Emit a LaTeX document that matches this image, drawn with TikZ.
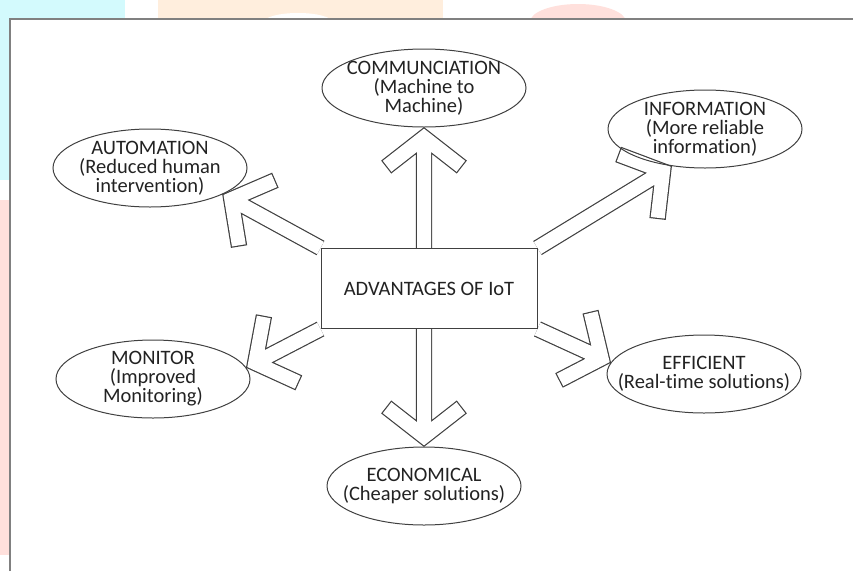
\documentclass[tikz,border=0pt]{standalone}
\usepackage{fontspec}
\setmainfont[Ligatures=NoCommon]{Carlito}
\usetikzlibrary{backgrounds,calc,shapes.geometric}
\definecolor{frame-grey}{HTML}{808080}
\definecolor{outline-grey}{HTML}{404040}
\definecolor{ink}{HTML}{222222}
\definecolor{wm-cyan}{HTML}{d3fafd}
\definecolor{wm-peach}{HTML}{ffeedd}
\definecolor{wm-pink}{HTML}{ffe0dc}

\begin{document}
\begin{tikzpicture}[
    x=1pt, y=-1pt,
    every node/.style={font=\fontsize{20.5}{19}\selectfont, text=ink},
    idea/.style={
        ellipse, draw=outline-grey, line width=1pt,
        minimum width=194pt, minimum height=78pt, inner sep=0pt,
    },
    idea text/.style={align=center},
    hub/.style={
        draw=outline-grey, line width=1pt, fill=white,
        minimum width=216pt, minimum height=80pt,
    },
    fat/.style={draw=outline-grey, line width=16.4pt, line join=miter},
    fat inner/.style={draw=white, line width=14pt, line join=miter},
]
\useasboundingbox (0,0) rectangle (853,571);

% faded marks round the frame
\begin{scope}
\clip (0,0) rectangle (853,19);
\fill[wm-cyan] (0,0) rectangle (125,19);
\fill[wm-peach] (158,0) rectangle (443,19);
\fill[white] (298,22) ellipse [x radius=34pt, y radius=9pt];
\fill[wm-pink] (578,22) ellipse [x radius=48pt, y radius=18pt];
\end{scope}
\fill[wm-cyan] (0,19) rectangle (10,180);
\fill[wm-pink] (0,200) rectangle (10,555);
\draw[frame-grey, line width=2pt] (10,571) -- (10,19) -- (853,19);

\node[hub] (box) at (429,288.5) {ADVANTAGES OF IoT};

\node[idea, minimum width=204pt,
    label={[idea text]center:{COMMUNCIATION\\(Machine to\\Machine)}}]
    (comm) at (424,88) {};
\node[idea,
    label={[idea text]center:{AUTOMATION\\(Reduced human\\intervention)}}]
    (auto) at (150,168) {};
\node[idea,
    label={[idea text]center:{INFORMATION\\(More reliable\\information)}}]
    (info) at (705,129) {};
\node[idea,
    label={[idea text]center:{MONITOR\\(Improved\\Monitoring)}}]
    (mon) at (153,379) {};
\node[idea,
    label={[idea text]center:{EFFICIENT\\(Real-time solutions)}}]
    (eff) at (704,374) {};
\node[idea,
    label={[idea text]center:{ECONOMICAL\\(Cheaper solutions)}}]
    (econ) at (424,486) {};

\begin{scope}[on background layer]
\foreach \from/\to in {
    box.north -| comm.south/comm.south,
    box.north west/auto.-20,
    box.north east/info.-132,
    box.south west/mon.7,
    box.south east/eff.173,
    box.south -| econ.north/econ.north%
}
{
    \coordinate (tip-base) at ($(\to)!10pt!(\from)$);
    % outline first, then the white inside (a bit shorter, so the ends close)
    \foreach \arm/\look in {48pt/fat, 46.8pt/fat inner}
        \draw[\look] (\from) -- (tip-base)
            ($(tip-base)!\arm!52:(\from)$) -- (tip-base)
            -- ($(tip-base)!\arm!-52:(\from)$);
}
\end{scope}
\end{tikzpicture}
\end{document}
